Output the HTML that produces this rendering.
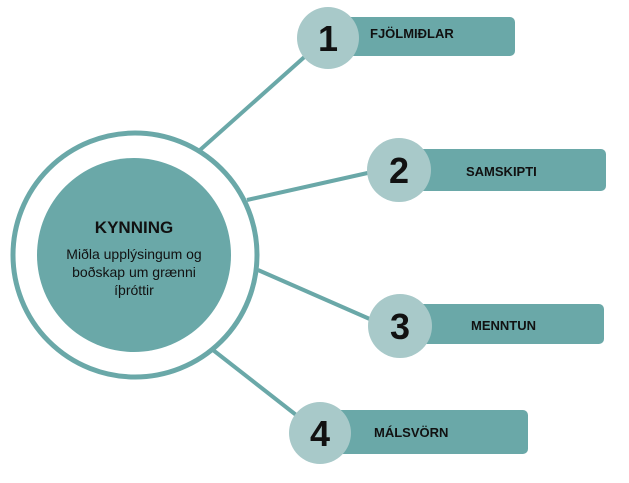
<!DOCTYPE html>
<html><head><meta charset="utf-8"><style>
html,body{margin:0;padding:0;background:#fff;}
svg text{font-family:"Liberation Sans",sans-serif;}
</style></head><body>
<svg width="629" height="478" viewBox="0 0 629 478" xmlns="http://www.w3.org/2000/svg">
<g stroke="#6aa8a8" stroke-width="4" fill="none">
<line x1="200" y1="150" x2="310" y2="52"/>
<line x1="247" y1="200" x2="372" y2="172"/>
<line x1="258" y1="270" x2="372" y2="320"/>
<line x1="213" y1="350" x2="300" y2="418"/>
<circle cx="135" cy="255" r="122" stroke-width="5"/>
</g>
<circle cx="134" cy="255" r="97" fill="#6aa8a8"/>
<text x="134" y="233" text-anchor="middle" font-size="17" font-weight="bold" fill="#111">KYNNING</text>
<text x="134" y="259" text-anchor="middle" font-size="14" fill="#111">Miðla upplýsingum og</text>
<text x="134" y="277" text-anchor="middle" font-size="14" fill="#111">boðskap um grænni</text>
<text x="134" y="295" text-anchor="middle" font-size="14" fill="#111">íþróttir</text>
<g fill="#6aa8a8">
<rect x="340" y="17" width="175" height="39" rx="5"/>
<rect x="415" y="149" width="191" height="42" rx="5"/>
<rect x="415" y="304" width="189" height="40" rx="5"/>
<rect x="335" y="410" width="193" height="44" rx="5"/>
</g>
<g fill="#a8c9c9">
<circle cx="328" cy="38" r="31"/>
<circle cx="399" cy="170" r="32"/>
<circle cx="400" cy="326" r="32"/>
<circle cx="320" cy="433" r="31"/>
</g>
<g font-size="36" font-weight="bold" fill="#111" text-anchor="middle">
<text x="328" y="51">1</text>
<text x="399" y="183">2</text>
<text x="400" y="339">3</text>
<text x="320" y="446">4</text>
</g>
<g font-size="13" font-weight="bold" fill="#111">
<text x="370" y="38">FJÖLMIÐLAR</text>
<text x="466" y="176">SAMSKIPTI</text>
<text x="471" y="330">MENNTUN</text>
<text x="374" y="437">MÁLSVÖRN</text>
</g>
</svg>
</body></html>
